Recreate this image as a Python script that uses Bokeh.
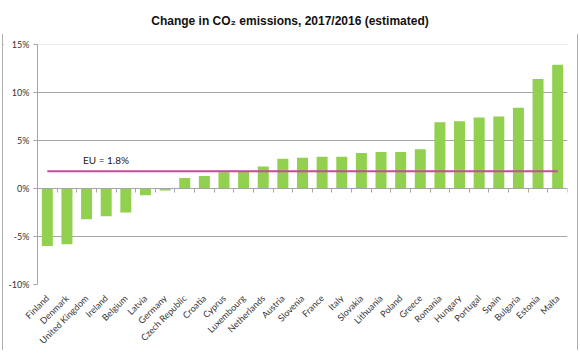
import math
from bokeh.plotting import figure
from bokeh.models import (Range1d, LinearAxis, FixedTicker, PrintfTickFormatter, Div,
                          ColumnDataSource)
from bokeh.layouts import column, row
from bokeh.embed import file_html
from bokeh.resources import INLINE
from bokeh.core.properties import value

countries = ["Finland", "Denmark", "United Kingdom", "Ireland", "Belgium", "Latvia",
             "Germany", "Czech Republic", "Croatia", "Cyprus", "Luxembourg",
             "Netherlands", "Austria", "Slovenia", "France", "Italy", "Slovakia",
             "Lithuania", "Poland", "Greece", "Romania", "Hungary", "Portugal",
             "Spain", "Bulgaria", "Estonia", "Malta"]
changes = [-6.0, -5.8, -3.2, -2.9, -2.5, -0.7,
           -0.2, 1.1, 1.3, 1.7, 1.8,
           2.3, 3.1, 3.2, 3.3, 3.3, 3.7,
           3.8, 3.8, 4.1, 6.9, 7.0, 7.4,
           7.5, 8.4, 11.4, 12.9]
eu_change = 1.8
y_ticks = [-10, -5, 0, 5, 10, 15]
title_text = "Change in CO₂ emissions, 2017/2016 (estimated)"

GRID = "#a6a6a6"
BORDER = "#b0b0b0"
LABEL_FONT = "Lato"
BL, BR, BT, BB = 34, 10, 10, 66
FW, FH = 530, 240
W = BL + FW + BR
H = BT + FH + BB

n = len(countries)
centers = [i + 0.5 for i in range(n)]
src = ColumnDataSource(dict(x=centers, top=changes, name=countries))

p = figure(x_range=Range1d(0, n), y_range=Range1d(-10, 15),
           frame_width=FW, frame_height=FH,
           min_border_left=BL, min_border_right=BR, min_border_top=BT, min_border_bottom=BB,
           output_backend="svg", toolbar_location=None)
p.margin = (0, 0, 0, 0)
p.outline_line_color = None
p.background_fill_color = "white"
p.border_fill_color = "white"

# grid
p.xgrid.visible = False
p.ygrid.ticker = FixedTicker(ticks=y_ticks)
p.ygrid.grid_line_color = GRID

# y axis
p.yaxis.ticker = FixedTicker(ticks=y_ticks)
p.yaxis.formatter = PrintfTickFormatter(format="%d%%")
p.yaxis.axis_line_color = GRID
p.yaxis.major_tick_line_color = GRID
p.yaxis.major_tick_in = 0
p.yaxis.major_tick_out = 4
p.yaxis.minor_tick_line_color = None
p.yaxis.major_label_text_font = LABEL_FONT
p.yaxis.major_label_text_font_size = "9px"
p.yaxis.major_label_text_color = "#333333"
p.yaxis.major_label_standoff = 4

# x axis (country labels at bottom)
p.xaxis.ticker = FixedTicker(ticks=centers)
p.xaxis.major_label_overrides = {c: name for c, name in zip(centers, countries)}
p.xaxis.axis_line_color = None
p.xaxis.major_tick_line_color = None
p.xaxis.minor_tick_line_color = None
p.xaxis.major_label_orientation = math.pi / 4
p.xaxis.major_label_standoff = 6
p.xaxis.major_label_text_font = LABEL_FONT
p.xaxis.major_label_text_font_size = "9px"
p.xaxis.major_label_text_color = "#333333"

# bars
p.vbar(x="x", top="top", bottom=0, width=0.56, source=src,
       fill_color="#92d050", line_color=None)

# zero axis with ticks between categories
zax = LinearAxis(fixed_location=0,
                 ticker=FixedTicker(ticks=list(range(n + 1))),
                 axis_line_color=GRID, major_tick_line_color=GRID,
                 major_tick_in=0, major_tick_out=4, minor_tick_line_color=None,
                 major_label_text_font_size="0px", major_label_text_color=None)
p.add_layout(zax, "below")

# EU average line
p.line(x=[centers[0], centers[-1]], y=[eu_change, eu_change],
       line_color="#c8489a", line_width=2)
p.text(x=[centers[1]], y=[eu_change], text=[f"EU = {eu_change}%"],
       x_offset=16, y_offset=-5, text_baseline="bottom", text_align="left",
       text_font=value(LABEL_FONT), text_font_size="10px", text_color="#222222")

title = Div(text=f'<div style="font-family: \'Liberation Sans\'; font-weight: bold; '
                 f'font-size: 12px; text-align: center; width: 580px; padding-top: 13px; '
                 f'color: #111;">{title_text}</div>',
            width=580, height=33, margin=(0, 0, 0, 0))


def line_div(w, h, margin=(0, 0, 0, 0)):
    return Div(text=f'<div style="width:{w}px;height:{h}px;background:{BORDER};"></div>',
               width=w, height=h, margin=margin)


top_line = line_div(W + 2, 1, margin=(0, 0, 0, 2))
bottom_line = line_div(W + 2, 1, margin=(0, 0, 0, 2))
middle = row(line_div(1, H), p, line_div(1, H), margin=(0, 0, 0, 2))

layout = column(title, top_line, middle, bottom_line, margin=(0, 0, 0, 0))

open("out.html", "w").write(file_html(layout, INLINE))
